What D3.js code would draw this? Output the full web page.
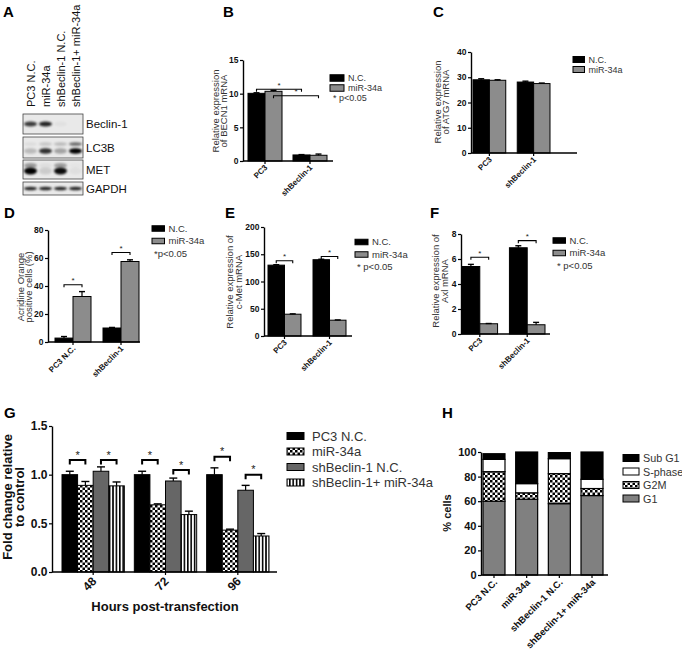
<!DOCTYPE html>
<html>
<head>
<meta charset="utf-8">
<script src="https://cdn.jsdelivr.net/npm/d3@7"></script>
<style>
  body { margin: 0; background: #fff; }
  svg { font-family: Arial, "Liberation Sans", sans-serif; }
</style>
</head>
<body>
<svg id="fig" width="682" height="649"></svg>
<script>
/** ---- data ---- */
// A: western blot
const lanes = ["PC3 N.C.", "miR-34a", "shBeclin-1 N.C.", "shBeclin-1+ miR-34a"];
const blotRows = ["Beclin-1", "LC3B", "MET", "GAPDH"];
const beclinBand = [0.75, 0.85, 0.03, 0.0];
const lc3UpperBand = [0.05, 0.15, 0.2, 0.55];
const lc3LowerBand = [0.2, 0.8, 0.3, 1.0];
const metBand = [1.0, 0.12, 0.95, 0.04];
const gapdhBand = [0.85, 0.85, 0.85, 0.85];

// B-F: two groups, two series
const seriesNames = ["N.C.", "miR-34a"];
const cellGroups = ["PC3", "shBeclin-1"];
const cellGroupsD = ["PC3 N.C.", "shBeclin-1"];

const becn1NC = [10.05, 0.9], becn1NCErr = [0.08, 0.05];
const becn1Mir = [10.35, 0.85], becn1MirErr = [0.15, 0.18];

const atg7NC = [29.0, 28.1], atg7NCErr = [0.4, 0.35];
const atg7Mir = [28.8, 27.5], atg7MirErr = [0.2, 0.2];

const aoNC = [2.8, 10.0], aoNCErr = [1.1, 0.4];
const aoMir = [32.5, 57.5], aoMirErr = [3.5, 1.2];

const cmetNC = [130, 140], cmetNCErr = [0.8, 0.8];
const cmetMir = [40, 29], cmetMirErr = [0.6, 0.5];

const axlNC = [5.4, 6.9], axlNCErr = [0.17, 0.16];
const axlMir = [0.82, 0.74], axlMirErr = [0.02, 0.19];

// G: viability over time
const hours = ["48", "72", "96"];
const gSeries = ["PC3 N.C.", "miR-34a", "shBeclin-1 N.C.", "shBeclin-1+ miR-34a"];
const pc3NC = [1.0, 1.0, 1.0], pc3NCErr = [0.035, 0.035, 0.07];
const mir34a = [0.89, 0.69, 0.43], mir34aErr = [0.04, 0.01, 0.01];
const shNC = [1.035, 0.935, 0.84], shNCErr = [0.045, 0.03, 0.05];
const shMir = [0.885, 0.59, 0.37], shMirErr = [0.04, 0.035, 0.025];

// H: cell cycle
const cycleGroups = ["PC3 N.C.", "miR-34a", "shBeclin-1 N.C.", "shBeclin-1+ miR-34a"];
const phaseG1 = [60, 61.6, 58, 64.6];
const phaseG2M = [24, 5.2, 24.4, 5.7];
const phaseS = [10, 7.5, 12.2, 7.5];
const phaseSubG1 = [4.6, 25.7, 4.9, 22.2];

/** ---- setup ---- */
const svg = d3.select("#fig");
const defs = svg.append("defs");

const checker = defs.append("pattern").attr("id", "checker")
  .attr("patternUnits", "userSpaceOnUse").attr("width", 5).attr("height", 5);
checker.append("rect").attr("width", 5).attr("height", 5).attr("fill", "#fff");
checker.append("rect").attr("width", 2.5).attr("height", 2.5).attr("fill", "#000");
checker.append("rect").attr("x", 2.5).attr("y", 2.5).attr("width", 2.5).attr("height", 2.5).attr("fill", "#000");

const stripes = defs.append("pattern").attr("id", "stripes")
  .attr("patternUnits", "userSpaceOnUse").attr("width", 3.4).attr("height", 4);
stripes.append("rect").attr("width", 3.4).attr("height", 4).attr("fill", "#fff");
stripes.append("rect").attr("width", 1.6).attr("height", 4).attr("fill", "#000");

defs.append("filter").attr("id", "blur")
  .attr("x", "-50%").attr("y", "-100%").attr("width", "200%").attr("height", "300%")
  .append("feGaussianBlur").attr("stdDeviation", 0.9);

/** Panel letters */
const letters = [["A", 3, 17], ["B", 223, 17], ["C", 433, 17], ["D", 4, 218],
  ["E", 225, 218], ["F", 430, 218], ["G", 4, 418], ["H", 442, 418]];
svg.selectAll("text.letter").data(letters).join("text")
  .attr("class", "letter")
  .attr("x", d => d[1]).attr("y", d => d[2])
  .style("font-size", "15px").style("font-weight", "bold")
  .text(d => d[0]);

/** ---- A: blot ---- */
const blot = svg.append("g");
const laneX = d3.scaleBand().domain(lanes).range([23, 83]);
const boxes = [[114, 134], [137, 158], [160, 179], [182, 195]];

blot.selectAll("text.lane").data(lanes).join("text")
  .attr("class", "lane")
  .attr("transform", d => `translate(${laneX(d) + laneX.bandwidth() / 2 + 4},107) rotate(-90)`)
  .style("font-size", "11px").attr("fill", "#111")
  .text(d => d);

blot.selectAll("rect.box").data(boxes).join("rect")
  .attr("class", "box")
  .attr("x", 23).attr("y", d => d[0]).attr("width", 60).attr("height", d => d[1] - d[0])
  .attr("fill", "#e9e9e9").attr("stroke", "#444").attr("stroke-width", 0.8);

blot.selectAll("text.rowlbl").data(blotRows).join("text")
  .attr("class", "rowlbl")
  .attr("x", 86).attr("y", (d, i) => (boxes[i][0] + boxes[i][1]) / 2 + 4)
  .style("font-size", "11.5px").attr("fill", "#111")
  .text(d => d);

const bandSets = [
  { vals: beclinBand, y: 124, h: 2.4 },
  { vals: lc3UpperBand, y: 144, h: 1.7 },
  { vals: lc3LowerBand, y: 151, h: 2.8 },
  { vals: metBand, y: 171, h: 3.4 },
  { vals: metBand.map(v => v * 0.35), y: 165.5, h: 2.4 },
  { vals: gapdhBand, y: 188.5, h: 1.7 }
];
bandSets.forEach(b => {
  blot.selectAll(null).data(b.vals).join("ellipse")
    .attr("cx", (d, i) => laneX(lanes[i]) + laneX.bandwidth() / 2)
    .attr("cy", b.y).attr("rx", 6.5).attr("ry", b.h)
    .attr("fill", "#000").attr("opacity", d => d)
    .attr("filter", "url(#blur)");
});

/** ---- generic bar panel ---- */
function barPanel(c) {
  const g = svg.append("g");
  const y = d3.scaleLinear().domain([0, c.yMax]).range([c.y0, c.y1]);
  const x = d3.scaleBand().domain(c.groups).range(c.gx).paddingInner(c.pad);
  const xs = d3.scaleBand().domain(d3.range(c.values.length)).range([0, x.bandwidth()]);
  const cx = (gi, si) => x(c.groups[gi]) + xs(si) + xs.bandwidth() / 2;

  // bars
  c.values.forEach((vals, si) => {
    g.selectAll(null).data(vals).join("rect")
      .attr("x", (d, gi) => x(c.groups[gi]) + xs(si))
      .attr("y", d => y(d))
      .attr("width", xs.bandwidth())
      .attr("height", d => c.y0 - y(d))
      .attr("fill", c.fills[si]).attr("stroke", "#000").attr("stroke-width", 1);
  });
  // error bars (upper only)
  c.values.forEach((vals, si) => {
    vals.forEach((v, gi) => {
      const e = c.errors[si][gi];
      const xc = cx(gi, si);
      g.append("line").attr("x1", xc).attr("x2", xc).attr("y1", y(v)).attr("y2", y(v + e))
        .attr("stroke", "#000").attr("stroke-width", 1.2);
      g.append("line").attr("x1", xc - c.cap).attr("x2", xc + c.cap).attr("y1", y(v + e)).attr("y2", y(v + e))
        .attr("stroke", "#000").attr("stroke-width", 1.4);
    });
  });

  // y axis
  const ya = g.append("g").attr("transform", `translate(${c.ax},0)`)
    .call(d3.axisLeft(y).tickValues(c.ticks).tickSize(3).tickSizeOuter(0).tickFormat(c.fmt));
  ya.select(".domain").attr("stroke-width", 1.4);
  ya.selectAll(".tick line").attr("stroke-width", 1.2);
  ya.selectAll(".tick text").attr("x", -4.5)
    .style("font-size", c.tickFs).style("font-weight", "bold").style("font-family", "Arial, sans-serif")
    .attr("fill", "#111");

  // x axis
  g.append("line").attr("x1", c.ax).attr("x2", c.axEnd).attr("y1", c.y0).attr("y2", c.y0)
    .attr("stroke", "#000").attr("stroke-width", 1.4);
  g.selectAll(null).data(c.groups).join("line")
    .attr("x1", d => x(d) + x.bandwidth() / 2).attr("x2", d => x(d) + x.bandwidth() / 2)
    .attr("y1", c.y0).attr("y2", c.y0 + 3).attr("stroke", "#000").attr("stroke-width", 1.2);
  g.selectAll(null).data(c.groups).join("text")
    .attr("transform", d => `translate(${x(d) + x.bandwidth() / 2 + c.lbl[0]},${c.y0 + c.lbl[1]}) rotate(-45)`)
    .attr("text-anchor", "end")
    .style("font-size", c.xFs).style("font-weight", "bold").attr("fill", "#111")
    .text(d => d);

  // y title
  const yt = g.append("text")
    .attr("transform", `translate(${c.yt[0]},${c.yt[1]}) rotate(-90)`)
    .attr("text-anchor", "middle")
    .style("font-size", c.ytFs).style("font-weight", c.ytBold ? "bold" : "normal")
    .attr("fill", c.ytBold ? "#111" : "#333");
  c.ytitle.forEach((t, i) => {
    yt.append("tspan").attr("x", 0).attr("y", i * c.yt[2]).text(t);
  });

  if (c.xtitle) {
    g.append("text").attr("x", c.xtitle[1]).attr("y", c.xtitle[2])
      .attr("text-anchor", "middle")
      .style("font-size", "13px").style("font-weight", "bold").attr("fill", "#111")
      .text(c.xtitle[0]);
  }

  // significance brackets
  c.brackets.forEach(b => {
    const x1 = cx(b[0], b[1]), x2 = cx(b[2], b[3]), yl = y(b[4]);
    g.append("path")
      .attr("d", `M${x1},${yl + c.brTick}V${yl}H${x2}V${yl + c.brTick}`)
      .attr("fill", "none").attr("stroke", "#000").attr("stroke-width", c.brW);
    g.append("text").attr("x", (x1 + x2) / 2).attr("y", yl - 1.5)
      .attr("text-anchor", "middle")
      .style("font-size", c.starFs).attr("fill", "#222")
      .text("*");
  });

  // legend
  const L = c.leg;
  c.series.forEach((s, i) => {
    g.append("rect").attr("x", L.x).attr("y", L.y + i * L.dy - L.h / 2)
      .attr("width", L.w).attr("height", L.h)
      .attr("fill", c.fills[i]).attr("stroke", "#000").attr("stroke-width", 1);
    g.append("text").attr("x", L.x + L.w + L.gap).attr("y", L.y + i * L.dy + L.fs * 0.36)
      .style("font-size", L.fs + "px").attr("fill", "#333")
      .text(s);
  });
  if (c.note) {
    g.append("text").attr("x", c.note[1]).attr("y", L.y + c.series.length * L.dy + L.fs * 0.36)
      .style("font-size", L.fs + "px").attr("fill", "#333")
      .text(c.note[0]);
  }
}

const smallCommon = {
  series: seriesNames, fills: ["#000", "#8c8c8c"], cap: 3,
  tickFs: "8.5px", xFs: "8px", ytFs: "9.5px", brTick: 2.5, brW: 1.1, starFs: "8px",
  lbl: [3, 7]
};

// B
barPanel(Object.assign({}, smallCommon, {
  groups: cellGroups, values: [becn1NC, becn1Mir], errors: [becn1NCErr, becn1MirErr],
  yMax: 15, y0: 161, y1: 60, gx: [248, 327], pad: 0.244, ax: 243, axEnd: 333,
  ticks: [0, 5, 10, 15], fmt: d3.format("d"),
  ytitle: ["Relative expression", "of BECN1 mRNA"], yt: [218.5, 111, 8.5],
  brackets: [[0, 0, 1, 0, 10.65], [0, 1, 1, 1, 9.7]],
  leg: { x: 330, y: 78, dy: 10, w: 14, h: 6.5, gap: 4, fs: 9 },
  note: ["* p<0.05", 333]
}));

// C
barPanel(Object.assign({}, smallCommon, {
  groups: cellGroups, values: [atg7NC, atg7Mir], errors: [atg7NCErr, atg7MirErr],
  yMax: 40, y0: 153, y1: 52, gx: [473, 550], pad: 0.26, ax: 471, axEnd: 577,
  ticks: [0, 10, 20, 30, 40], fmt: d3.format("d"),
  ytitle: ["Relative expression", "of ATG7 mRNA"], yt: [440.5, 102, 8.5],
  brackets: [],
  leg: { x: 573, y: 59.5, dy: 10, w: 11.5, h: 6, gap: 4, fs: 9 }
}));

// D
barPanel(Object.assign({}, smallCommon, {
  groups: cellGroupsD, values: [aoNC, aoMir], errors: [aoNCErr, aoMirErr],
  yMax: 80, y0: 342, y1: 230, gx: [55, 139], pad: 0.25, ax: 48, axEnd: 140,
  ticks: [0, 20, 40, 60, 80], fmt: d3.format("d"),
  ytitle: ["Acridine Orange", "positive cells (%)"], yt: [23.5, 287, 8.5],
  brackets: [[0, 0, 0, 1, 40.9], [1, 0, 1, 1, 63.9]],
  leg: { x: 152, y: 228.5, dy: 12.5, w: 12.5, h: 5.5, gap: 4, fs: 9.5 },
  note: ["*p<0.05", 154]
}));

// E
barPanel(Object.assign({}, smallCommon, {
  groups: cellGroups, values: [cmetNC, cmetMir], errors: [cmetNCErr, cmetMirErr],
  yMax: 200, y0: 336, y1: 227, gx: [268, 346], pad: 0.267, ax: 264, axEnd: 352,
  ticks: [0, 50, 100, 150, 200], fmt: d3.format("d"),
  ytitle: ["Relative expression of", "c-Met mRNA"], yt: [233, 282, 8.5],
  brackets: [[0, 0, 0, 1, 138], [1, 0, 1, 1, 146]],
  leg: { x: 355, y: 242, dy: 12.5, w: 13, h: 5.5, gap: 4, fs: 9.5 },
  note: ["* p<0.05", 357]
}));

// F
barPanel(Object.assign({}, smallCommon, {
  groups: cellGroups, values: [axlNC, axlMir], errors: [axlNCErr, axlMirErr],
  yMax: 8, y0: 334, y1: 234, gx: [462, 545], pad: 0.25, ax: 461, axEnd: 550,
  ticks: [0, 2, 4, 6, 8], fmt: d3.format("d"),
  ytitle: ["Relative expression of", "Axl mRNA"], yt: [439, 281, 8.5],
  brackets: [[0, 0, 0, 1, 6.14], [1, 0, 1, 1, 7.47]],
  leg: { x: 553, y: 240.5, dy: 12.5, w: 12.5, h: 5.5, gap: 4, fs: 9.5 },
  note: ["* p<0.05", 557]
}));

// G
barPanel({
  series: gSeries, fills: ["#000", "url(#checker)", "#666", "url(#stripes)"], cap: 4,
  tickFs: "12px", xFs: "12px", ytFs: "13px", ytBold: true,
  brTick: 4.5, brW: 2, starFs: "11px", lbl: [4, 10],
  groups: hours, values: [pc3NC, mir34a, shNC, shMir],
  errors: [pc3NCErr, mir34aErr, shNCErr, shMirErr],
  yMax: 1.5, y0: 572, y1: 426, gx: [62, 269], pad: 0.138, ax: 52, axEnd: 277,
  ticks: [0, 0.5, 1.0, 1.5], fmt: d3.format(".1f"),
  ytitle: ["Fold change relative", "to control"], yt: [12, 497, 12],
  xtitle: ["Hours post-transfection", 165, 611],
  brackets: [[0, 0, 0, 1, 1.15], [0, 2, 0, 3, 1.15], [1, 0, 1, 1, 1.15],
    [1, 2, 1, 3, 1.047], [2, 0, 2, 1, 1.184], [2, 2, 2, 3, 1.0]],
  leg: { x: 287, y: 436, dy: 15.5, w: 17, h: 7, gap: 8, fs: 13 }
});

/** ---- H: stacked cell cycle ---- */
(function () {
  const g = svg.append("g");
  const phases = ["G1", "G2M", "S-phase", "Sub G1"];
  const phaseFill = { "G1": "#808080", "G2M": "url(#checker)", "S-phase": "#fff", "Sub G1": "#000" };
  const table = cycleGroups.map((k, i) => ({
    group: k, "G1": phaseG1[i], "G2M": phaseG2M[i], "S-phase": phaseS[i], "Sub G1": phaseSubG1[i]
  }));
  const stacked = d3.stack().keys(phases)(table);
  const y0 = 575;
  const y = d3.scaleLinear().domain([0, 100]).range([y0, 452]);
  const x = d3.scaleBand().domain(cycleGroups).range([483, 603]).paddingInner(0.327);

  stacked.forEach(layer => {
    g.selectAll(null).data(layer).join("rect")
      .attr("x", d => x(d.data.group)).attr("width", x.bandwidth())
      .attr("y", d => y(d[1])).attr("height", d => y(d[0]) - y(d[1]))
      .attr("fill", phaseFill[layer.key]).attr("stroke", "#000").attr("stroke-width", 1.2);
  });

  const ya = g.append("g").attr("transform", "translate(481,0)")
    .call(d3.axisLeft(y).tickValues([0, 20, 40, 60, 80, 100]).tickSize(3).tickSizeOuter(0));
  ya.select(".domain").attr("stroke-width", 1.4);
  ya.selectAll(".tick line").attr("stroke-width", 1.2);
  ya.selectAll(".tick text").attr("x", -4.5)
    .style("font-size", "11px").style("font-weight", "bold").style("font-family", "Arial, sans-serif")
    .attr("fill", "#111");

  g.append("line").attr("x1", 481).attr("x2", 608).attr("y1", y0).attr("y2", y0)
    .attr("stroke", "#000").attr("stroke-width", 1.4);
  g.selectAll(null).data(cycleGroups).join("line")
    .attr("x1", d => x(d) + x.bandwidth() / 2).attr("x2", d => x(d) + x.bandwidth() / 2)
    .attr("y1", y0).attr("y2", y0 + 3).attr("stroke", "#000").attr("stroke-width", 1.2);
  g.selectAll(null).data(cycleGroups).join("text")
    .attr("transform", d => `translate(${x(d) + x.bandwidth() / 2 + 4},${y0 + 8}) rotate(-45)`)
    .attr("text-anchor", "end")
    .style("font-size", "9.5px").style("font-weight", "bold").attr("fill", "#111")
    .text(d => d);

  g.append("text").attr("transform", "translate(451,513) rotate(-90)")
    .attr("text-anchor", "middle")
    .style("font-size", "11px").style("font-weight", "bold").attr("fill", "#111")
    .text("% cells");

  const legOrder = phases.slice().reverse();
  legOrder.forEach((p, i) => {
    const ly = 458 + i * 13.5;
    g.append("rect").attr("x", 623).attr("y", ly - 3.5).attr("width", 16).attr("height", 7)
      .attr("fill", phaseFill[p]).attr("stroke", "#000").attr("stroke-width", 1);
    g.append("text").attr("x", 643).attr("y", ly + 4)
      .style("font-size", "10.8px").attr("fill", "#333").text(p);
  });
})();
</script>
</body>
</html>
